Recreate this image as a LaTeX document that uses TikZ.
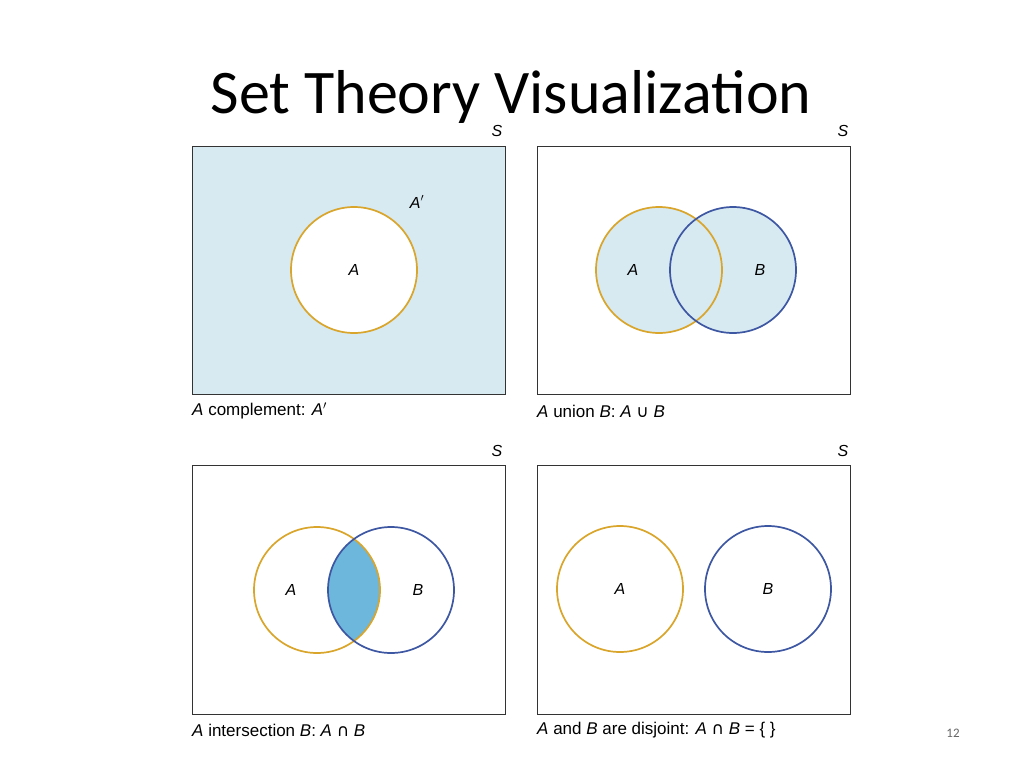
\documentclass[tikz,border=0pt]{standalone}
\usepackage{fontspec}
\setmainfont{Liberation Sans}
\newfontfamily\titlefont{Carlito}
\newfontfamily\symfont{DejaVu Sans}
\definecolor{lb}{HTML}{D7E9F1}
\definecolor{orA}{HTML}{D9A52B}
\definecolor{blB}{HTML}{3D57A2}
\definecolor{mid}{HTML}{6DB6DC}
\begin{document}
\begin{tikzpicture}[x=1pt,y=-1pt,
  panel/.style={draw=black!80,line width=0.9pt},
  ca/.style={draw=orA,line width=1.7pt},
  cb/.style={draw=blB,line width=1.7pt},
  lbl/.style={font=\fontsize{16}{18}\selectfont\itshape},
  captext/.style={font=\fontsize{17}{20}\selectfont,anchor=west,inner sep=0}]
\useasboundingbox (0,0) rectangle (1024,768);
\node[font=\titlefont\fontsize{62}{70}\selectfont] (title) at (511,97) {Set Theory Visualization};
% top-left
\node[panel,fill=lb,minimum width=313pt,minimum height=248pt,anchor=north west,inner sep=0] (p1) at (192,146) {};
\node[ca,fill=white,circle,minimum size=126pt] (a1) at (354,270) {};
\node[lbl] (ta1) at (354,270) {A};
\node[lbl] (tac) at (417,202) {A$'$};
\node[lbl] (s1) at (497,131) {S};
\node[captext] (c1) at (192,411) {\textit{A} complement: \textit{A}$'$};
% top-right
\node[panel,minimum width=313pt,minimum height=248pt,anchor=north west,inner sep=0] (p2) at (537,146) {};
\fill[lb] (659,270) circle (63) (733,270) circle (63);
\draw[ca] (659,270) circle (63);
\draw[cb] (733,270) circle (63);
\node[lbl] (ta2) at (633,270) {A};
\node[lbl] (tb2) at (760,270) {B};
\node[lbl] (s2) at (843,131) {S};
\node[captext] (c2) at (537,411) {\textit{A} union \textit{B}: \textit{A} {\symfont ∪} \textit{B}};
% bottom-left
\node[panel,minimum width=313pt,minimum height=249pt,anchor=north west,inner sep=0] (p3) at (192,465) {};
\begin{scope}
\clip (317,590) circle (63);
\fill[mid] (391,590) circle (63);
\end{scope}
\draw[ca] (317,590) circle (63);
\draw[cb] (391,590) circle (63);
\node[lbl] (ta3) at (291,590) {A};
\node[lbl] (tb3) at (418,590) {B};
\node[lbl] (s3) at (497,451) {S};
\node[captext] (c3) at (192,730) {\textit{A} intersection \textit{B}: \textit{A} {\symfont ∩} \textit{B}};
% bottom-right
\node[panel,minimum width=313pt,minimum height=249pt,anchor=north west,inner sep=0] (p4) at (537,465) {};
\draw[ca] (620,589) circle (63);
\draw[cb] (768,589) circle (63);
\node[lbl] (ta4) at (620,589) {A};
\node[lbl] (tb4) at (768,589) {B};
\node[lbl] (s4) at (843,451) {S};
\node[captext] (c4) at (537,730) {\textit{A} and \textit{B} are disjoint: \textit{A} {\symfont ∩} \textit{B} = \{ \}};
\node[font=\titlefont\fontsize{13}{15}\selectfont,text=black!60] (pg) at (953,733) {12};
\end{tikzpicture}
\end{document}
